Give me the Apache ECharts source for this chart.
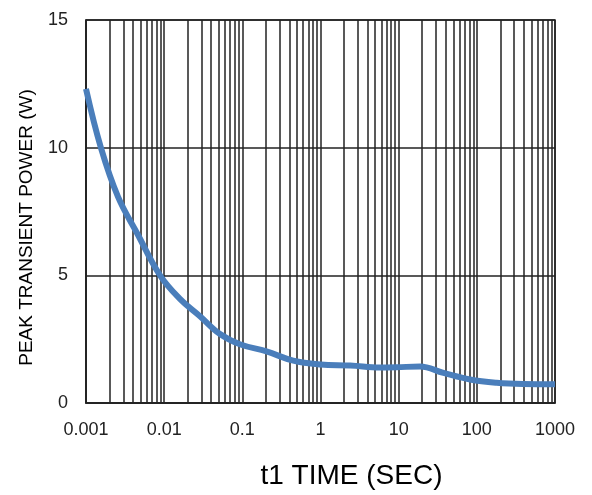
<!DOCTYPE html>
<html>
<head>
<meta charset="utf-8">
<script src="https://cdn.jsdelivr.net/npm/echarts@6/dist/echarts.min.js"></script>
<style>
  html, body { margin: 0; padding: 0; background: #fff; }
  #chart { width: 592px; height: 495px; }
</style>
</head>
<body>
<div id="chart"></div>
<script>
// pulse width (s) vs peak power (W)
var times = [0.001, 0.00155, 0.00257, 0.00456, 0.00885, 0.0159, 0.0287, 0.0518, 0.093, 0.204, 0.448, 1, 2.4, 5.78, 9.4, 18.7, 37.4, 82, 179, 392, 1000]
var power = [12.3, 10.0, 8.07, 6.62, 5.0, 4.08, 3.4, 2.7, 2.3, 2.02, 1.66, 1.51, 1.47, 1.39, 1.40, 1.43, 1.18, 0.92, 0.79, 0.74, 0.73]

var decades = [0.001, 0.01, 0.1, 1, 10, 100, 1000]
var xTickLabels = ['0.001', '0.01', '0.1', '1', '10', '100', '1000']
var multipliers = [1, 2, 3, 4, 5, 6, 7, 8, 9]
var yTicks = [0, 5, 10, 15]

// grid lines at 1..9 of each decade
var gridValues = []
decades.forEach(function (d, i) {
  if (i === decades.length - 1) {
    gridValues.push(d)
    return
  }
  multipliers.forEach(function (m) {
    gridValues.push(+(d * m).toPrecision(3))
  })
})

var lineColor = '#222'

var chart = echarts.init(document.getElementById('chart'), null, { renderer: 'canvas' })
chart.setOption({
  backgroundColor: '#fff',
  animation: false,
  grid: {
    left: 86,
    right: 37,
    top: 20,
    bottom: 82,
    show: true,
    borderColor: lineColor,
    borderWidth: 1.5
  },
  xAxis: {
    type: 'log',
    logBase: 10,
    min: 0.001,
    max: 1000,
    name: 't1 TIME (SEC)',
    nameLocation: 'middle',
    nameGap: 59,
    nameTextStyle: {
      fontFamily: 'Liberation Sans',
      fontSize: 28,
      color: '#000',
      padding: [0, 0, 0, 62]
    },
    axisLine: { show: true, lineStyle: { color: lineColor, width: 1.5 } },
    axisTick: { show: false, customValues: gridValues },
    axisLabel: {
      customValues: decades,
      margin: 18,
      fontFamily: 'Liberation Sans',
      fontSize: 18,
      color: '#222',
      formatter: function (v) {
        var i = decades.findIndex(function (d) { return Math.abs(Math.log10(d) - Math.log10(v)) < 0.01 })
        return i >= 0 ? xTickLabels[i] : ''
      }
    },
    splitLine: { show: true, lineStyle: { color: lineColor, width: 1.5 } },
    minorTick: { show: false },
    minorSplitLine: { show: false }
  },
  yAxis: {
    type: 'value',
    min: 0,
    max: 15,
    interval: 5,
    name: 'PEAK TRANSIENT POWER (W)',
    nameLocation: 'middle',
    nameGap: 50,
    nameTextStyle: {
      fontFamily: 'Liberation Sans',
      fontSize: 19,
      color: '#000',
      padding: [0, 32, 0, 0]
    },
    axisLine: { show: true, lineStyle: { color: lineColor, width: 1.5 } },
    axisTick: { show: false },
    axisLabel: {
      margin: 18,
      fontFamily: 'Liberation Sans',
      fontSize: 18,
      color: '#222',
      formatter: function (v) {
        return yTicks.indexOf(v) >= 0 ? String(v) : ''
      }
    },
    splitLine: { show: true, lineStyle: { color: lineColor, width: 1.5 } }
  },
  series: [{
    type: 'line',
    data: times.map(function (t, i) { return [t, power[i]] }),
    smooth: 0.4,
    showSymbol: false,
    symbol: 'none',
    lineStyle: { color: '#4a7ebb', width: 6 },
    z: 3
  }]
})
</script>
</body>
</html>
